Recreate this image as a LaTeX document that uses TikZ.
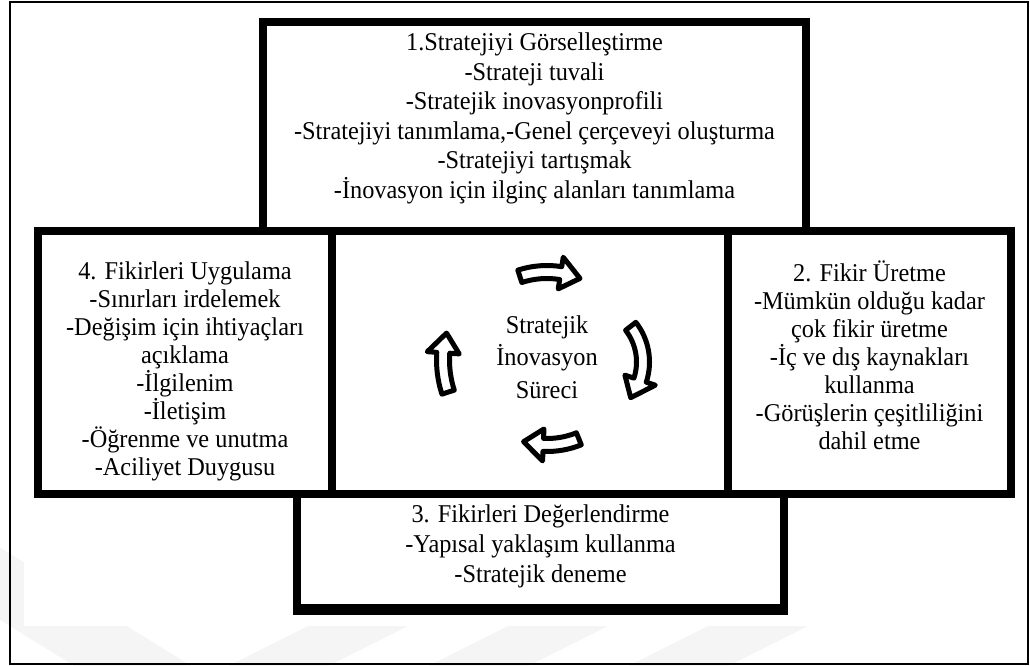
\documentclass[tikz,border=0pt]{standalone}
\usepackage{fontspec}
\setmainfont{Liberation Serif}[FakeStretch=0.95]
\usetikzlibrary{calc}

% curved block arrow: #1 centre, #2 tail angle, #3 tip angle, #4 radius
\newcommand\cyclearrow[4]{%
  \pgfmathsetmacro\cbase{#3-sign(#3-#2)*(20/#4)*57.2958}%
  \pgfmathsetmacro\rout{#4+6.5}%
  \pgfmathsetmacro\rin{#4-6.5}%
  \pgfmathsetmacro\hout{#4+16}%
  \pgfmathsetmacro\hin{#4-16}%
  \filldraw[cyc] ($(#1)+(#2:\rout)$)
      arc[start angle=#2, end angle=\cbase, radius=\rout]
      -- ($(#1)+(\cbase:\hout)$) -- ($(#1)+(#3:#4)$)
      -- ($(#1)+(\cbase:\hin)$) -- ($(#1)+(\cbase:\rin)$)
      arc[start angle=\cbase, end angle=#2, radius=\rin] -- cycle;
}

\begin{document}
\begin{tikzpicture}[x=1pt, y=-1pt,
  panel/.style={draw=black, line width=8pt, rectangle, inner sep=0pt},
  body/.style={inner sep=0pt, align=center},
  cyc/.style={fill=white, draw=black, line width=5pt, line join=round},
  chevron/.style={fill=gray!8}]
\useasboundingbox (0,0) rectangle (1030,666);

% faint background chevrons
\begin{scope}
  \clip (0,0) rectangle (1030,666);
  \fill[chevron] (-129,540) -- (-12,540) -- (214,680) -- (97,680) -- cycle;
  \fill[chevron] (200,680) -- (300,680) -- (580,540) -- (480,540) -- cycle;
  \fill[chevron] (400,680) -- (500,680) -- (780,540) -- (680,540) -- cycle;
  \fill[chevron] (600,680) -- (700,680) -- (980,540) -- (880,540) -- cycle;
  \fill[white] (24,0) rectangle (1030,626);
\end{scope}

% page frame
\node[draw=black, line width=2.5pt, inner sep=0pt,
      minimum width=1018pt, minimum height=662pt] (page) at (519,333) {};

% the five panels
\node[panel, minimum width=543pt, minimum height=209pt] (visual) at (534.5,126.5) {};
\node[panel, minimum width=294pt, minimum height=263pt] (apply)  at (185,362.5) {};
\node[panel, minimum width=396pt, minimum height=263pt] (core)   at (530,362.5) {};
\node[panel, minimum width=283pt, minimum height=263pt] (ideas)  at (869.5,362.5) {};
\node[panel, minimum width=487pt, minimum height=114pt] (assess) at (540.5,551) {};
% heavier lower edge of the bottom panel
\draw[line width=4pt] ($(assess.south west)+(0,1)$) -- ($(assess.south east)+(0,1)$);

% panel texts
\node[body, font=\fontsize{25.6}{29.5}\selectfont] (tvisual) at (534.5,118.5)
  {1.Stratejiyi Görselleştirme\\-Strateji tuvali\\-Stratejik inovasyonprofili\\
   -Stratejiyi tanımlama,-Genel çerçeveyi oluşturma\\-Stratejiyi tartışmak\\
   -İnovasyon için ilginç alanları tanımlama};
\node[body, font=\fontsize{25.6}{28}\selectfont] (tapply) at (185,371)
  {4. Fikirleri Uygulama\\-Sınırları irdelemek\\-Değişim için ihtiyaçları\\açıklama\\
   -İlgilenim\\-İletişim\\-Öğrenme ve unutma\\-Aciliyet Duygusu};
\node[body, font=\fontsize{25.6}{28}\selectfont] (tideas) at (869.5,355.5)
  {2. Fikir Üretme\\-Mümkün olduğu kadar\\çok fikir üretme\\-İç ve dış kaynakları\\
   kullanma\\-Görüşlerin çeşitliliğini\\dahil etme};
\node[body, font=\fontsize{25.6}{30}\selectfont] (tassess) at (540.5,546)
  {3. Fikirleri Değerlendirme\\-Yapısal yaklaşım kullanma\\-Stratejik deneme};
\node[body, font=\fontsize{25.6}{32.5}\selectfont] (tcore) at (547,357)
  {Stratejik\\İnovasyon\\Süreci};

% cycle arrows around the centre text
\coordinate (hub) at (547,360);
\coordinate (rhub) at (585,362);
\cyclearrow{hub}{-108}{-68}{88}
\cyclearrow{rhub}{-38}{38}{58}
\cyclearrow{hub}{68}{106}{85}
\cyclearrow{hub}{162}{195}{104}
\end{tikzpicture}
\end{document}
